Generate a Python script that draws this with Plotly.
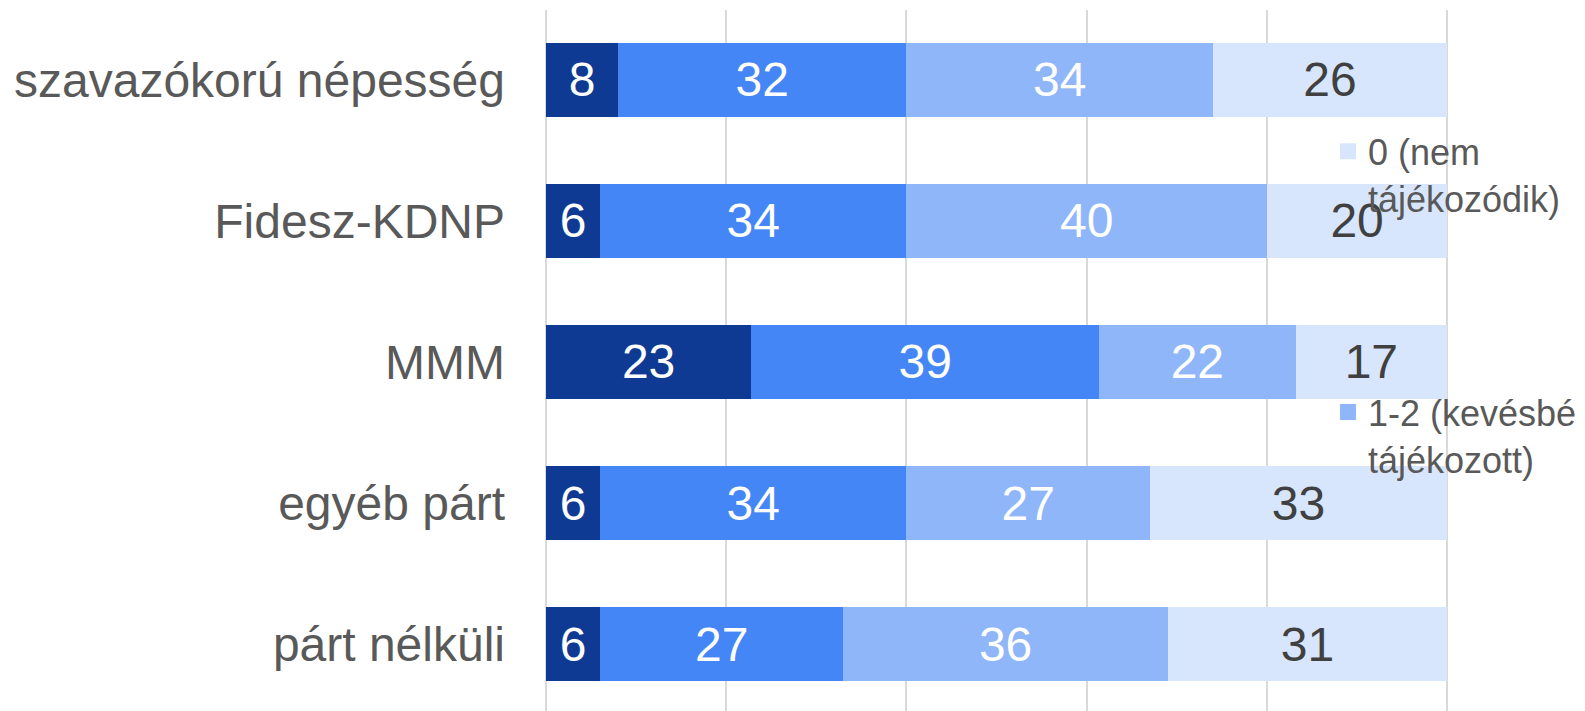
import plotly.graph_objects as go

categories = ["szavazókorú népesség", "Fidesz-KDNP", "MMM", "egyéb párt", "párt nélküli"]
series_names = ["3 (nagyon tájékozott)", "2", "1-2 (kevésbé<br>tájékozott)", "0 (nem<br>tájékozódik)"]
s_dark = [8, 6, 23, 6, 6]
s_blue = [32, 34, 39, 34, 27]
s_light = [34, 40, 22, 27, 36]
s_pale = [26, 20, 17, 33, 31]

colors = ["#0E3A93", "#4486F5", "#8FB6F9", "#D7E6FC"]
text_colors = ["#FFFFFF", "#FFFFFF", "#FFFFFF", "#404040"]
show_leg = [False, False, True, True]
ranks = [3, 4, 2, 1]

fig = go.Figure()
for name, vals, c, tc in zip(series_names, [s_dark, s_blue, s_light, s_pale], colors, text_colors):
    fig.add_trace(go.Bar(
        y=categories, x=vals, orientation="h", name=name,
        marker=dict(color=c, line=dict(width=0)),
        text=vals, texttemplate="%{text}", textposition="inside",
        insidetextanchor="middle", constraintext="none",
        textfont=dict(family="Liberation Sans, Arial", size=48, color=tc),
        showlegend=False, legendgroup=name,
    ))

# legend entries (square swatches) for the visible legend items
for name, c, sl, rk in zip(series_names, colors, show_leg, ranks):
    if sl:
        fig.add_trace(go.Scatter(
            x=[None], y=[None], mode="markers", name=name,
            marker=dict(symbol="square", size=19, color=c),
            legendgroup=name, legendrank=rk, showlegend=True, hoverinfo="skip",
        ))

fig.update_layout(
    barmode="stack", barnorm="percent", bargap=0.475,
    width=1577, height=703,
    margin=dict(l=538, r=136, t=2, b=0),
    paper_bgcolor="white", plot_bgcolor="white",
    font=dict(family="Liberation Sans, Arial", color="#595959"),
    legend=dict(x=0.866, y=0.841, xanchor="left", yanchor="top", valign="top",
                bgcolor="rgba(0,0,0,0)", font=dict(size=36, color="#595959"),
                tracegroupgap=164, itemclick=False, itemsizing="trace"),
    xaxis=dict(range=[0, 100.2], dtick=20, showticklabels=False, showgrid=True,
               gridcolor="#D9D9D9", gridwidth=2, zeroline=True, zerolinecolor="#D9D9D9",
               zerolinewidth=2, showline=False, fixedrange=True),
    yaxis=dict(categoryorder="array", categoryarray=categories,
               range=[4.475, -0.496], showgrid=False, zeroline=False,
               tickfont=dict(size=48, color="#595959"), ticklabelstandoff=40,
               ticks="", fixedrange=True),
)

fig.write_html("out.html")
